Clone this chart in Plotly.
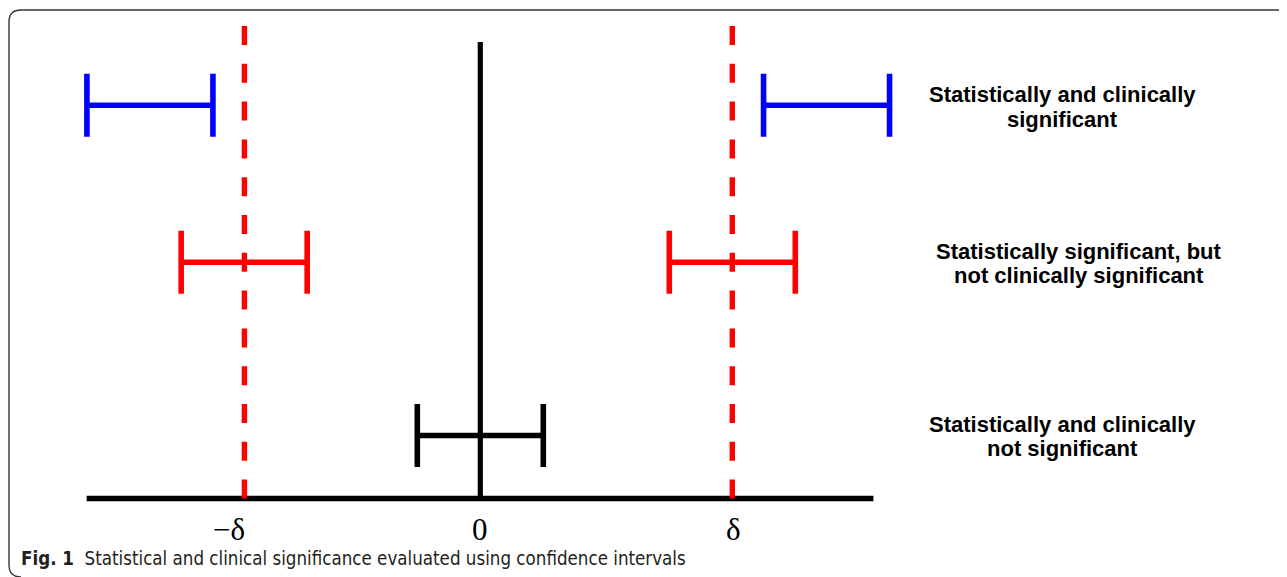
import plotly.graph_objects as go

# ---- data (x in effect units, delta = 10; y = row height) ----
delta_pos = 10.0
delta_neg = -9.36
axis_x = [-15.62, 15.60]
zero_line_top = 4.565
dash_top = 4.725

ci_colors = ["blue", "blue", "red", "red", "black"]
ci_center = [-13.11, 13.74, -9.37, 10.0, 0.0]
ci_half = [2.5, 2.5, 2.5, 2.5, 2.5]
ci_row_y = [3.933, 3.933, 2.363, 2.363, 0.63]

row_label_lines = [
    ["Statistically and clinically", "significant"],
    ["Statistically significant, but", "not clinically significant"],
    ["Statistically and clinically", "not significant"],
]
row_label_x = [23.12, 23.76, 23.12]
row_label_y = [3.915, 2.35, 0.62]

tick_vals = [delta_neg, 0.0, delta_pos]
tick_text = ["\u2212\u03b4", "0", "\u03b4"]
tick_shift = [-15, 0, 1]

caption_bold = "Fig. 1"
caption_text = "Statistical and clinical significance evaluated using confidence intervals"

OFF = 8  # page body margin
W, H = 1287 - OFF, 577 - OFF
X0_PX, X_SCALE = 480.3 - OFF, 25.2
Y0_PX, Y_SCALE = 498.5 - OFF, 100.0

fig = go.Figure()

# horizontal axis line
fig.add_trace(go.Scatter(x=axis_x, y=[0, 0], mode="lines",
                         line=dict(color="black", width=5.5),
                         hoverinfo="skip", showlegend=False))
# zero line
fig.add_trace(go.Scatter(x=[0, 0], y=[zero_line_top, 0], mode="lines",
                         line=dict(color="black", width=5.2),
                         hoverinfo="skip", showlegend=False))

# confidence intervals as error bars
for c, xc, hw, yc in zip(ci_colors, ci_center, ci_half, ci_row_y):
    fig.add_trace(go.Scatter(
        x=[xc], y=[yc], mode="markers",
        marker=dict(size=1, color="rgba(0,0,0,0)"),
        error_x=dict(type="data", array=[hw], symmetric=True, visible=True,
                     color=c, thickness=5.6, width=31.5),
        hoverinfo="skip", showlegend=False))

# +/- delta dashed lines
for d in [delta_neg, delta_pos]:
    fig.add_trace(go.Scatter(x=[d, d], y=[dash_top, 0], mode="lines",
                             line=dict(color="red", width=5.4, dash="19px,18.8px"),
                             hoverinfo="skip", showlegend=False))

annotations = []
for lines, x, y in zip(row_label_lines, row_label_x, row_label_y):
    for i, t in enumerate(lines):
        annotations.append(dict(x=x, y=y, xref="x", yref="y", text=t, showarrow=False,
                                xanchor="center", yanchor="middle", align="center",
                                yshift=12.3 - 24.6 * i,
                                font=dict(family="Liberation Sans, Arial, sans-serif",
                                          size=22, color="black", weight="bold")))
for v, t, s in zip(tick_vals, tick_text, tick_shift):
    annotations.append(dict(x=v, y=-0.305, xref="x", yref="y", text=t, showarrow=False,
                            xanchor="center", yanchor="middle", xshift=s,
                            font=dict(family="Liberation Serif, Times New Roman, serif",
                                      size=31, color="black")))
annotations.append(dict(
    x=(19 - OFF) / W, y=1 - (558 - OFF) / H, xref="paper", yref="paper",
    text="<b>" + caption_bold + "</b>\u00a0\u00a0" + caption_text,
    showarrow=False, xanchor="left", yanchor="middle", align="left",
    font=dict(family="Liberation Sans Narrow, DejaVu Sans Condensed, Arial Narrow, sans-serif",
              size=18.6, color="#231f20")))

def px(x, y):
    return f"{(x - OFF) / W:.5f},{1 - (y - OFF) / H:.5f}"

border = ("M " + px(9, 565) + " L " + px(9, 22) + " Q " + px(9, 10) + " " + px(21, 10)
          + " L " + px(1300, 10)
          + " M " + px(9, 565) + " Q " + px(9, 577) + " " + px(21, 577))

fig.update_layout(
    width=W, height=H,
    margin=dict(l=0, r=0, t=0, b=0),
    paper_bgcolor="white", plot_bgcolor="white",
    xaxis=dict(range=[(0 - X0_PX) / X_SCALE, (W - X0_PX) / X_SCALE],
               visible=False, fixedrange=True),
    yaxis=dict(range=[(Y0_PX - H) / Y_SCALE, Y0_PX / Y_SCALE],
               visible=False, fixedrange=True),
    annotations=annotations,
    shapes=[dict(type="path", xref="paper", yref="paper", path=border,
                 line=dict(color="#333333", width=1.4))],
    showlegend=False,
)

fig.write_html("out.html")
